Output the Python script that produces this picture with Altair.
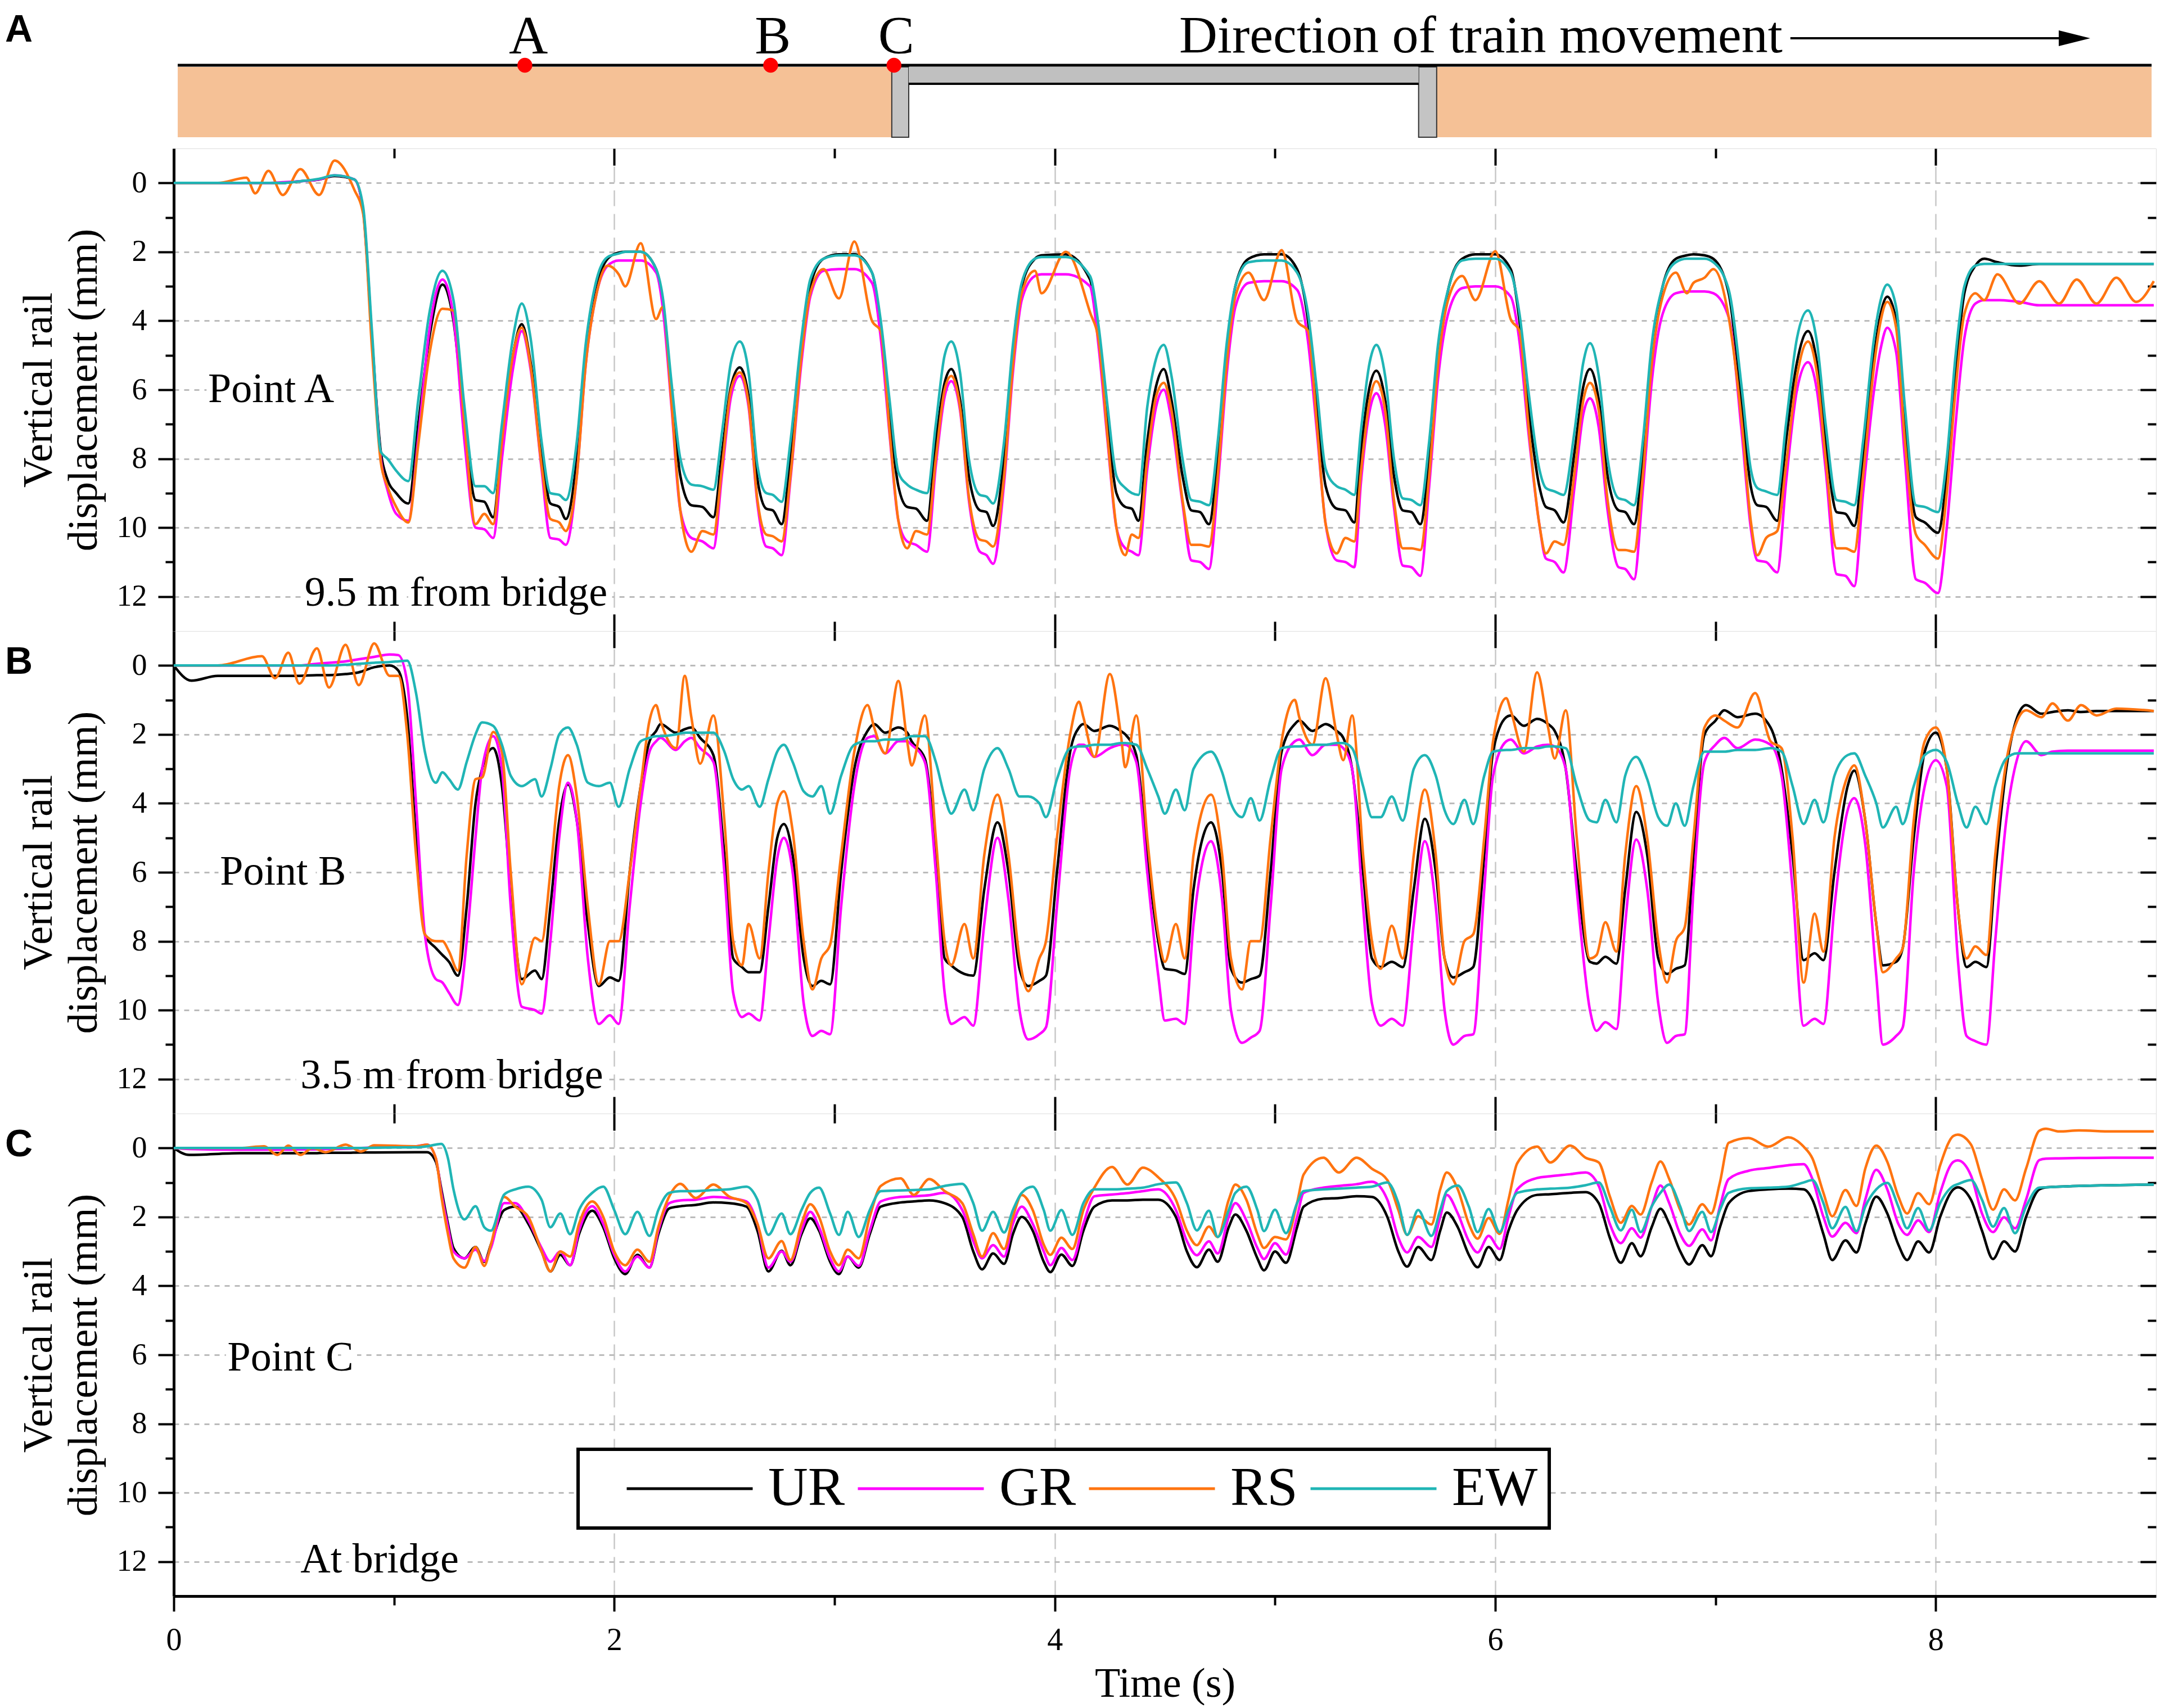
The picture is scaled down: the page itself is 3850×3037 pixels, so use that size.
import altair as alt
import pandas as pd

FONT = "Liberation Serif"
SANS = "Liberation Sans"
W = 3525
H = 858
H0 = 256
SERIES = ["UR", "GR", "RS", "EW"]
COLORS = ["#000000", "#FF00FF", "#FF7410", "#20B5B5"]

# ---------------- Panel A : 9.5 m from bridge ----------------
A_T = [0, 0.2, 0.33, 0.37, 0.43, 0.495, 0.575, 0.66, 0.73, 0.82,
       0.86, 0.9, 0.94, 0.97, 1.01, 1.065, 1.11, 1.16, 1.22, 1.27,
       1.32, 1.37, 1.41, 1.45, 1.49, 1.54, 1.58, 1.62, 1.67, 1.71,
       1.75, 1.78, 1.83, 1.87, 1.92, 1.97, 2.02, 2.05, 2.12, 2.19,
       2.22, 2.26, 2.3, 2.35, 2.4, 2.45, 2.49, 2.53, 2.57, 2.61,
       2.65, 2.69, 2.72, 2.76, 2.8, 2.85, 2.89, 2.95, 3.02, 3.09,
       3.17, 3.21, 3.25, 3.29, 3.33, 3.37, 3.42, 3.46, 3.5, 3.53,
       3.57, 3.61, 3.66, 3.69, 3.72, 3.77, 3.81, 3.85, 3.91, 3.94,
       4.05, 4.16, 4.2, 4.24, 4.28, 4.32, 4.35, 4.38, 4.42, 4.46,
       4.495, 4.53, 4.58, 4.62, 4.66, 4.7, 4.74, 4.78, 4.82, 4.88,
       4.95, 5.03, 5.1, 5.15, 5.19, 5.23, 5.28, 5.32, 5.36, 5.39,
       5.43, 5.46, 5.5, 5.54, 5.58, 5.62, 5.66, 5.7, 5.74, 5.79,
       5.85, 5.91, 6.0, 6.07, 6.11, 6.15, 6.2, 6.23, 6.27, 6.31,
       6.36, 6.4, 6.43, 6.47, 6.51, 6.56, 6.59, 6.63, 6.67, 6.71,
       6.76, 6.82, 6.87, 6.9, 6.95, 6.99, 7.06, 7.12, 7.16, 7.19,
       7.23, 7.28, 7.32, 7.37, 7.42, 7.46, 7.5, 7.55, 7.59, 7.63,
       7.67, 7.72, 7.75, 7.78, 7.82, 7.86, 7.91, 7.95, 8.01, 8.05,
       8.09, 8.13, 8.18, 8.22, 8.28, 8.38, 8.47, 8.56, 8.64, 8.73, 8.82, 8.91, 8.99]
A_UR = [0, 0, 0, 0, 0, 0, -0.05, -0.1, -0.2, -0.1,
        0.8, 4.5, 7.8, 8.6, 9.0, 9.3, 7.0, 4.5, 2.95, 4.0,
        7.0, 9.2, 9.25, 9.7, 7.5, 5.0, 4.1, 5.2, 7.8, 9.3,
        9.4, 9.75, 8.0, 5.0, 3.0, 2.2, 2.02, 2.0, 2.0, 2.5,
        3.5, 6.0, 8.5, 9.35, 9.4, 9.7, 7.8, 5.9, 5.35, 6.2,
        8.6, 9.45, 9.5, 9.9, 8.0, 4.8, 3.0, 2.2, 2.07, 2.07,
        2.6, 4.2, 6.8, 8.8, 9.4, 9.45, 9.8, 7.5, 5.8, 5.4,
        6.3, 8.5, 9.5, 9.55, 9.95, 8.0, 5.0, 3.0, 2.2, 2.1,
        2.07, 2.8, 4.5, 7.0, 9.0, 9.4, 9.45, 9.8, 7.5, 5.9,
        5.4, 6.3, 8.5, 9.5, 9.55, 9.9, 8.0, 5.0, 3.0, 2.2,
        2.07, 2.07, 2.5, 4.0, 6.5, 8.8, 9.45, 9.5, 9.85, 7.8,
        5.9, 5.45, 6.3, 8.5, 9.5, 9.55, 9.9, 8.0, 5.0, 3.0,
        2.2, 2.07, 2.07, 2.5, 4.0, 6.5, 8.8, 9.4, 9.5, 9.85,
        7.8, 5.9, 5.4, 6.3, 8.5, 9.5, 9.55, 9.9, 8.0, 5.0,
        3.0, 2.2, 2.1, 2.07, 2.1, 2.2, 3.2, 6.5, 8.8, 9.35,
        9.4, 9.8, 7.5, 5.2, 4.3, 5.2, 7.5, 9.55, 9.6, 9.95,
        8.0, 5.0, 3.8, 3.3, 4.0, 7.0, 9.7, 9.85, 10.15, 8.5,
        5.5, 3.2, 2.4, 2.2, 2.3, 2.4, 2.35, 2.35, 2.35, 2.35, 2.35, 2.35, 2.35]
A_GR = [0, 0, 0, 0, 0, -0.02, -0.05, -0.1, -0.22, -0.1,
        0.8, 4.5, 8.0, 8.9, 9.6, 9.8, 7.4, 4.3, 2.8, 3.9,
        7.5, 10.0, 10.05, 10.3, 8.0, 5.4, 4.3, 5.4, 8.3, 10.3,
        10.35, 10.5, 8.5, 5.3, 3.2, 2.4, 2.25, 2.25, 2.25, 2.6,
        3.6, 6.5, 9.5, 10.3, 10.4, 10.6, 8.4, 6.2, 5.6, 6.5,
        9.3, 10.55, 10.6, 10.8, 8.6, 5.2, 3.3, 2.55, 2.5, 2.5,
        2.9, 4.5, 7.3, 9.8, 10.4, 10.5, 10.7, 8.2, 6.2, 5.75,
        6.6, 9.2, 10.7, 10.8, 11.05, 8.7, 5.5, 3.4, 2.7, 2.65,
        2.65, 3.0, 4.8, 7.5, 10.0, 10.6, 10.7, 10.8, 8.3, 6.5,
        6.0, 6.9, 9.3, 10.95, 11.0, 11.2, 8.8, 5.6, 3.6, 2.9,
        2.85, 2.85, 3.1, 4.6, 7.2, 9.9, 10.95, 11.0, 11.15, 8.7,
        6.6, 6.1, 7.0, 9.4, 11.1, 11.15, 11.4, 8.8, 5.7, 3.7,
        3.05, 3.0, 3.0, 3.3, 4.6, 7.2, 9.9, 10.9, 11.0, 11.3,
        8.8, 6.7, 6.25, 7.1, 9.5, 11.15, 11.2, 11.5, 8.9, 5.8,
        3.8, 3.2, 3.15, 3.15, 3.15, 3.2, 3.9, 7.3, 10.0, 10.95,
        11.0, 11.3, 8.7, 6.0, 5.2, 6.0, 8.3, 11.35, 11.4, 11.7,
        9.0, 6.0, 4.8, 4.2, 4.9, 8.0, 11.5, 11.6, 11.9, 10.0,
        7.0, 4.5, 3.5, 3.4, 3.4, 3.45, 3.55, 3.55, 3.55, 3.55, 3.55, 3.55, 3.55]
A_RS = [0, 0, -0.15, 0.3, -0.35, 0.35, -0.4, 0.35, -0.65, 0.2,
        0.9, 4.8, 8.1, 8.8, 9.4, 9.85, 7.6, 5.0, 3.65, 3.7,
        7.0, 9.9, 9.6, 9.9, 7.5, 5.0, 4.2, 5.3, 8.2, 9.75,
        9.85, 10.1, 8.5, 5.3, 3.2, 2.4, 2.65, 3.0, 1.75, 3.95,
        3.6, 6.4, 9.5, 10.7, 10.1, 10.2, 8.2, 6.0, 5.5, 6.4,
        9.2, 10.2, 10.25, 10.4, 8.5, 5.0, 3.2, 2.5, 3.35, 1.7,
        4.0, 4.3, 7.2, 9.8, 10.6, 10.1, 10.2, 8.0, 6.0, 5.6,
        6.5, 9.1, 10.35, 10.4, 10.55, 8.5, 5.3, 3.2, 2.55, 3.2,
        2.0, 3.75, 4.6, 7.4, 10.0, 10.8, 10.2, 10.3, 8.0, 6.2,
        5.8, 6.6, 9.2, 10.5, 10.5, 10.55, 8.5, 5.3, 3.3, 2.6,
        3.4, 1.95, 4.0, 4.3, 7.0, 9.9, 10.75, 10.3, 10.4, 8.4,
        6.3, 5.75, 6.6, 9.2, 10.6, 10.6, 10.65, 8.5, 5.3, 3.3,
        2.7, 3.4, 1.98, 3.95, 4.3, 7.0, 9.9, 10.75, 10.4, 10.5,
        8.4, 6.3, 5.8, 6.6, 9.2, 10.65, 10.65, 10.7, 8.5, 5.3,
        3.3, 2.6, 3.2, 2.9, 2.75, 2.5, 3.9, 7.0, 9.8, 10.8,
        10.3, 10.1, 8.2, 5.6, 4.6, 5.5, 8.0, 10.6, 10.6, 10.7,
        8.5, 5.3, 4.0, 3.45, 4.2, 7.5, 10.2, 10.5, 10.9, 9.0,
        6.0, 3.8, 3.2, 3.4, 2.65, 3.5, 2.85, 3.5, 2.8, 3.5, 2.75, 3.45, 2.85]
A_EW = [0, 0, 0, 0, 0, 0, -0.05, -0.12, -0.22, -0.1,
        0.7, 4.3, 7.8, 8.0, 8.35, 8.65, 6.3, 3.8, 2.55, 3.4,
        6.5, 8.8, 8.8, 9.0, 7.0, 4.5, 3.5, 4.5, 7.5, 9.0,
        9.05, 9.2, 7.5, 4.7, 2.8, 2.15, 2.05, 2.0, 2.0, 2.5,
        3.3, 5.8, 8.0, 8.75, 8.8, 8.9, 7.2, 5.2, 4.6, 5.5,
        8.2, 9.0, 9.05, 9.25, 7.5, 4.5, 2.8, 2.2, 2.1, 2.1,
        2.6, 4.0, 6.3, 8.4, 8.75, 8.9, 9.0, 7.0, 5.0, 4.6,
        5.5, 8.0, 9.05, 9.1, 9.3, 7.5, 4.7, 2.9, 2.2, 2.15,
        2.15, 2.7, 4.2, 6.5, 8.5, 8.85, 9.0, 9.05, 6.5, 5.1,
        4.7, 5.6, 8.0, 9.2, 9.25, 9.35, 7.5, 4.7, 3.0, 2.3,
        2.25, 2.25, 2.6, 3.8, 6.0, 8.3, 8.8, 8.9, 9.05, 7.2,
        5.2, 4.7, 5.6, 8.0, 9.15, 9.2, 9.35, 7.5, 4.7, 3.0,
        2.25, 2.2, 2.2, 2.6, 3.8, 6.0, 8.3, 8.85, 8.95, 9.05,
        7.2, 5.2, 4.65, 5.6, 8.0, 9.15, 9.2, 9.35, 7.5, 4.7,
        3.0, 2.3, 2.2, 2.2, 2.2, 2.3, 3.1, 6.0, 8.3, 8.85,
        8.95, 9.05, 7.0, 4.5, 3.7, 4.6, 7.0, 9.2, 9.25, 9.35,
        7.5, 4.5, 3.4, 2.95, 3.6, 6.5, 9.35, 9.4, 9.55, 8.0,
        5.0, 3.0, 2.4, 2.35, 2.35, 2.35, 2.35, 2.35, 2.35, 2.35, 2.35, 2.35, 2.35]

# ---------------- Panel B : 3.5 m from bridge ----------------
B_T = [0, 0.08, 0.2, 0.4, 0.46, 0.52, 0.57, 0.65, 0.705, 0.78,
       0.84, 0.91, 0.98, 1.02, 1.06, 1.1, 1.14, 1.19, 1.22, 1.25,
       1.29, 1.33, 1.37, 1.4, 1.45, 1.49, 1.53, 1.58, 1.64, 1.67,
       1.71, 1.75, 1.79, 1.83, 1.88, 1.93, 1.98, 2.02, 2.07, 2.12,
       2.16, 2.19, 2.21, 2.28, 2.32, 2.35, 2.39, 2.45, 2.5, 2.54,
       2.58, 2.61, 2.66, 2.7, 2.74, 2.77, 2.81, 2.86, 2.9, 2.94,
       2.98, 3.03, 3.09, 3.15, 3.18, 3.23, 3.29, 3.33, 3.35, 3.41,
       3.46, 3.5, 3.53, 3.59, 3.63, 3.68, 3.74, 3.79, 3.84, 3.88,
       3.93, 3.96, 4.01, 4.07, 4.11, 4.13, 4.18, 4.25, 4.3, 4.32,
       4.37, 4.42, 4.47, 4.5, 4.55, 4.59, 4.63, 4.71, 4.76, 4.8,
       4.85, 4.89, 4.93, 4.98, 5.03, 5.09, 5.11, 5.17, 5.23, 5.28,
       5.31, 5.35, 5.4, 5.44, 5.48, 5.53, 5.58, 5.63, 5.68, 5.73,
       5.77, 5.81, 5.86, 5.9, 5.95, 5.99, 6.05, 6.07, 6.13, 6.19,
       6.24, 6.27, 6.32, 6.37, 6.43, 6.46, 6.5, 6.55, 6.59, 6.64,
       6.69, 6.74, 6.78, 6.82, 6.86, 6.9, 6.95, 7.0, 7.04, 7.1,
       7.18, 7.25, 7.3, 7.35, 7.4, 7.45, 7.49, 7.54, 7.6, 7.63,
       7.68, 7.73, 7.76, 7.82, 7.85, 7.9, 7.95, 8.0, 8.05, 8.1,
       8.14, 8.18, 8.23, 8.27, 8.32, 8.37, 8.41, 8.48, 8.53, 8.6, 8.66, 8.73, 8.82, 8.99]
B_UR = [0, 0.44, 0.3, 0.3, 0.3, 0.3, 0.3, 0.28, 0.28, 0.25,
        0.2, 0.05, 0.0, 0.15, 1.5, 5.0, 7.8, 8.2, 8.4, 8.6,
        9.0, 7.0, 4.0, 3.0, 2.4, 3.5, 6.5, 9.1, 8.85, 9.1,
        7.0, 4.5, 3.45, 4.5, 7.5, 9.3, 9.05, 9.15, 6.0, 3.5,
        2.2, 1.9, 1.7, 1.95, 1.85, 1.8, 2.1, 2.6, 5.5, 8.5,
        8.75, 8.9, 8.9, 7.0, 5.0, 4.6, 5.5, 8.5, 9.3, 9.15,
        9.25, 6.0, 3.0, 1.9, 1.7, 1.95, 1.8, 1.95, 2.2, 2.7,
        5.5, 8.5, 8.7, 8.95, 9.0, 6.5, 4.55, 6.0, 8.8, 9.3,
        9.15, 9.0, 6.0, 2.5, 1.8, 1.7, 1.9, 1.75, 1.9, 2.0,
        2.6, 5.5, 8.0, 8.8, 8.85, 8.95, 6.5, 4.55, 6.0, 8.8,
        9.2, 9.1, 9.0, 6.0, 2.5, 1.7, 1.6, 1.9, 1.7, 1.9,
        2.1, 3.0, 6.0, 8.5, 8.75, 8.6, 8.75, 6.5, 4.45, 6.0,
        8.5, 9.05, 8.9, 8.75, 5.5, 2.5, 1.5, 1.45, 1.75, 1.55,
        1.7, 1.9, 3.0, 6.0, 8.6, 8.65, 8.45, 8.65, 6.5, 4.25,
        5.5, 8.5, 8.95, 8.8, 8.7, 5.5, 2.0, 1.6, 1.3, 1.5,
        1.4, 1.8, 3.0, 5.5, 8.55, 8.35, 8.55, 6.0, 3.5, 3.05,
        4.5, 7.5, 8.7, 8.6, 8.2, 5.0, 2.5, 1.95, 3.0, 7.0,
        8.75, 8.6, 8.75, 6.0, 3.0, 1.5, 1.15, 1.4, 1.35, 1.3, 1.35, 1.32, 1.32, 1.32]
B_GR = [0, 0, 0, 0, 0, 0, 0, -0.05, -0.08, -0.12,
        -0.18, -0.25, -0.32, -0.3, 0.5, 4.0, 7.8, 9.1, 9.2, 9.5,
        9.85, 8.0, 5.0, 3.0, 2.05, 3.0, 7.0, 9.9, 10.0, 10.1,
        8.0, 5.0, 3.4, 4.5, 8.5, 10.4, 10.15, 10.4, 7.0, 4.0,
        2.5, 2.2, 2.1, 2.45, 2.2, 2.1, 2.4, 2.8, 6.0, 9.5,
        10.2, 10.1, 10.3, 8.0, 5.6, 5.0, 6.0, 9.8, 10.75, 10.6,
        10.7, 7.0, 3.5, 2.1, 2.05, 2.55, 2.2, 2.2, 2.3, 2.8,
        6.0, 9.5, 10.4, 10.2, 10.45, 7.5, 5.0, 6.8, 10.0, 10.85,
        10.7, 10.5, 7.0, 3.0, 2.3, 2.3, 2.65, 2.4, 2.3, 2.3,
        2.8, 6.0, 9.0, 10.3, 10.25, 10.4, 7.5, 5.1, 6.8, 10.0,
        10.95, 10.8, 10.6, 7.0, 3.0, 2.2, 2.15, 2.6, 2.3, 2.3,
        2.4, 3.0, 7.0, 9.8, 10.45, 10.25, 10.45, 7.5, 5.1, 7.0,
        10.0, 11.0, 10.75, 10.7, 6.5, 3.2, 2.2, 2.15, 2.55, 2.35,
        2.3, 2.35, 3.0, 6.5, 10.0, 10.6, 10.35, 10.55, 7.5, 5.05,
        6.5, 9.8, 10.95, 10.75, 10.7, 6.5, 2.8, 2.3, 2.1, 2.4,
        2.15, 2.3, 3.2, 6.5, 10.45, 10.25, 10.4, 7.0, 4.2, 3.85,
        5.2, 9.0, 11.0, 10.75, 10.5, 6.0, 3.5, 2.75, 3.5, 8.5,
        10.75, 10.9, 11.0, 8.0, 4.5, 2.7, 2.2, 2.6, 2.5, 2.47, 2.47, 2.47, 2.47, 2.47]
B_RS = [0, 0, 0, -0.27, 0.37, -0.37, 0.53, -0.5, 0.64, -0.6,
        0.57, -0.64, 0.3, 0.3, 2.0, 5.5, 7.8, 8.0, 8.0, 8.3,
        8.85, 5.5, 3.3, 3.25, 1.93, 2.5, 6.0, 9.25, 7.9, 8.0,
        6.0, 3.5, 2.6, 3.8, 7.0, 9.25, 8.0, 8.0, 6.0, 3.5,
        1.6, 1.15, 1.6, 2.4, 0.3, 1.5, 2.85, 1.45, 4.5, 8.0,
        8.7, 7.5, 8.5, 6.0, 4.0, 3.65, 4.8, 8.0, 9.4, 8.5,
        8.1, 5.5, 2.5, 1.15, 1.8, 2.55, 0.45, 2.2, 2.9, 1.45,
        5.0, 8.0, 8.7, 7.5, 8.5, 5.5, 3.75, 5.5, 8.5, 9.45,
        8.5, 8.0, 5.0, 2.0, 1.05, 1.5, 2.65, 0.25, 2.0, 2.95,
        1.45, 5.0, 7.8, 8.6, 7.5, 8.5, 5.5, 3.75, 5.5, 8.5,
        9.4, 8.0, 8.0, 5.0, 2.2, 1.0, 1.5, 2.3, 0.37, 2.0,
        2.75, 1.45, 5.5, 8.0, 8.8, 7.55, 8.5, 5.5, 3.6, 5.5,
        8.5, 9.25, 8.0, 7.8, 5.0, 2.2, 0.95, 1.3, 2.5, 0.2,
        1.8, 2.7, 1.3, 5.0, 8.5, 8.4, 7.45, 8.3, 5.5, 3.5,
        5.0, 8.0, 9.2, 8.0, 7.6, 5.0, 1.8, 1.45, 1.6, 1.8,
        0.8, 2.2, 2.4, 5.0, 9.2, 7.2, 8.3, 5.0, 3.2, 2.9,
        4.5, 7.5, 8.9, 8.5, 8.2, 4.5, 2.2, 1.8, 3.0, 7.0,
        8.5, 8.15, 8.4, 5.5, 2.8, 1.6, 1.3, 1.5, 1.1, 1.6, 1.15, 1.45, 1.25, 1.32]
B_EW = [0, 0, 0, 0, 0, 0, 0, 0, 0, -0.02,
        -0.05, -0.08, -0.1, -0.12, -0.14, 0.8, 2.5, 3.4, 3.1, 3.3,
        3.6, 2.8, 2.0, 1.65, 1.75, 2.3, 3.2, 3.5, 3.3, 3.8,
        3.0, 2.0, 1.8, 2.3, 3.4, 3.5, 3.4, 4.1, 3.0, 2.2,
        2.1, 2.05, 2.05, 2.0, 1.95, 1.95, 1.95, 1.95, 2.5, 3.3,
        3.6, 3.5, 4.1, 3.3, 2.5, 2.3, 2.8, 3.65, 3.8, 3.5,
        4.3, 3.2, 2.3, 2.2, 2.2, 2.15, 2.15, 2.1, 2.05, 2.05,
        2.8, 3.8, 4.3, 3.6, 4.2, 3.0, 2.4, 3.0, 3.8, 3.8,
        4.0, 4.4, 3.3, 2.4, 2.35, 2.35, 2.3, 2.3, 2.25, 2.25,
        2.3, 3.0, 3.8, 4.3, 3.6, 4.2, 3.0, 2.5, 3.1, 4.0,
        4.4, 3.85, 4.5, 3.3, 2.4, 2.35, 2.35, 2.3, 2.3, 2.25,
        2.25, 2.4, 3.5, 4.4, 4.4, 3.8, 4.5, 3.0, 2.6, 3.2,
        4.2, 4.6, 3.9, 4.6, 3.2, 2.5, 2.45, 2.45, 2.4, 2.4,
        2.35, 2.35, 2.4, 3.5, 4.5, 4.55, 3.9, 4.55, 3.2, 2.65,
        3.3, 4.4, 4.65, 4.0, 4.65, 3.5, 2.5, 2.5, 2.5, 2.45,
        2.45, 2.4, 2.5, 3.5, 4.6, 3.9, 4.55, 3.2, 2.6, 2.55,
        3.2, 4.0, 4.7, 4.1, 4.6, 3.5, 2.6, 2.45, 2.8, 4.0,
        4.7, 4.1, 4.6, 3.5, 2.7, 2.55, 2.55, 2.55, 2.55, 2.55, 2.55, 2.55, 2.55, 2.55]

# ---------------- Panel C : at bridge ----------------
C_T = [0, 0.07, 0.3, 0.41, 0.47, 0.52, 0.575, 0.63, 0.69, 0.78,
       0.85, 0.91, 1.1, 1.15, 1.19, 1.215, 1.245, 1.27, 1.32, 1.37,
       1.41, 1.44, 1.5, 1.55, 1.61, 1.67, 1.71, 1.755, 1.8, 1.84,
       1.9, 1.95, 2.0, 2.05, 2.105, 2.16, 2.2, 2.25, 2.3, 2.37,
       2.45, 2.52, 2.6, 2.65, 2.7, 2.76, 2.8, 2.85, 2.89, 2.93,
       2.98, 3.02, 3.06, 3.11, 3.16, 3.21, 3.3, 3.36, 3.43, 3.5,
       3.58, 3.63, 3.67, 3.72, 3.77, 3.81, 3.85, 3.9, 3.95, 3.98,
       4.03, 4.08, 4.13, 4.18, 4.26, 4.33, 4.4, 4.47, 4.55, 4.6,
       4.645, 4.7, 4.74, 4.79, 4.82, 4.87, 4.92, 4.95, 5.0, 5.05,
       5.1, 5.13, 5.22, 5.29, 5.37, 5.44, 5.51, 5.56, 5.6, 5.65,
       5.71, 5.75, 5.78, 5.83, 5.88, 5.92, 5.97, 6.02, 6.06, 6.1,
       6.19, 6.25, 6.34, 6.41, 6.47, 6.52, 6.57, 6.62, 6.66, 6.71,
       6.75, 6.79, 6.84, 6.88, 6.94, 6.98, 7.02, 7.06, 7.15, 7.24,
       7.33, 7.4, 7.44, 7.49, 7.53, 7.59, 7.64, 7.68, 7.73, 7.78,
       7.83, 7.87, 7.92, 7.97, 8.02, 8.08, 8.1, 8.16, 8.21, 8.26,
       8.31, 8.36, 8.41, 8.47, 8.5, 8.56, 8.65, 8.8, 8.99]
C_UR = [0, 0.2, 0.15, 0.15, 0.15, 0.15, 0.15, 0.15, 0.14, 0.14,
        0.13, 0.13, 0.12, 0.12, 0.4, 1.2, 2.2, 2.9, 3.2, 2.87,
        3.3, 2.8, 1.8, 1.7, 2.2, 3.0, 3.58, 3.1, 3.4, 2.5,
        1.82, 2.3, 3.2, 3.66, 3.1, 3.47, 2.5, 1.75, 1.69, 1.65,
        1.58, 1.6, 1.7, 2.4, 3.58, 2.98, 3.4, 2.5, 2.04, 2.4,
        3.3, 3.66, 3.15, 3.47, 2.5, 1.7, 1.58, 1.55, 1.52, 1.6,
        2.0, 3.0, 3.52, 3.06, 3.36, 2.5, 2.0, 2.4, 3.3, 3.6,
        3.09, 3.42, 2.4, 1.7, 1.52, 1.52, 1.5, 1.5, 2.0, 3.0,
        3.46, 2.95, 3.3, 2.3, 1.93, 2.4, 3.2, 3.55, 3.0, 3.33,
        2.3, 1.7, 1.47, 1.45, 1.4, 1.42, 2.0, 3.0, 3.44, 2.87,
        3.25, 2.4, 1.87, 2.3, 3.1, 3.46, 2.87, 3.25, 2.4, 1.8,
        1.36, 1.34, 1.3, 1.28, 1.6, 2.6, 3.33, 2.76, 3.14, 2.3,
        1.76, 2.2, 3.0, 3.38, 2.82, 3.14, 2.3, 1.6, 1.25, 1.2,
        1.18, 1.2, 1.5, 2.5, 3.25, 2.68, 3.03, 2.2, 1.41, 1.9,
        2.8, 3.25, 2.71, 3.03, 2.0, 1.2, 1.14, 1.5, 2.4, 3.22,
        2.71, 3.0, 2.0, 1.2, 1.14, 1.12, 1.1, 1.08, 1.06]
C_GR = [0, 0.03, 0.05, 0.05, 0.05, 0.05, 0.04, 0.04, 0.03, 0.02,
        0.0, -0.02, -0.05, -0.1, 0.3, 1.3, 2.3, 3.0, 3.2, 2.95,
        3.28, 2.9, 1.6, 1.6, 2.1, 2.9, 3.3, 3.0, 3.4, 2.4,
        1.69, 2.2, 3.1, 3.58, 3.15, 3.47, 2.4, 1.6, 1.52, 1.5,
        1.42, 1.45, 1.55, 2.2, 3.47, 3.0, 3.3, 2.4, 1.85, 2.3,
        3.2, 3.58, 3.15, 3.42, 2.4, 1.55, 1.42, 1.4, 1.37, 1.3,
        1.8, 2.7, 3.2, 2.82, 3.15, 2.2, 1.7, 2.2, 3.0, 3.4,
        2.9, 3.25, 2.2, 1.4, 1.35, 1.31, 1.25, 1.2, 1.8, 2.7,
        3.11, 2.71, 3.06, 2.0, 1.6, 2.1, 2.9, 3.22, 2.76, 3.09,
        2.0, 1.3, 1.15, 1.1, 1.05, 0.98, 1.5, 2.6, 3.03, 2.58,
        2.87, 2.0, 1.36, 1.9, 2.7, 3.03, 2.55, 2.93, 2.0, 1.2,
        0.87, 0.82, 0.76, 0.71, 1.1, 2.2, 2.76, 2.33, 2.6, 1.7,
        1.09, 1.6, 2.5, 2.84, 2.36, 2.68, 1.7, 0.9, 0.66, 0.58,
        0.5, 0.47, 0.9, 2.0, 2.57, 2.17, 2.47, 1.5, 0.63, 1.2,
        2.2, 2.52, 2.1, 2.44, 1.3, 0.4, 0.36, 0.8, 1.9, 2.44,
        2.01, 2.33, 1.5, 0.35, 0.31, 0.3, 0.29, 0.28, 0.28]
C_RS = [0, 0, 0.0, -0.05, 0.2, -0.07, 0.2, 0.0, 0.12, -0.1,
        0.1, -0.08, -0.05, -0.1, 0.3, 1.4, 2.5, 3.2, 3.47, 2.87,
        3.42, 2.8, 1.42, 1.7, 2.0, 3.0, 3.58, 3.0, 3.15, 2.2,
        1.55, 2.0, 3.0, 3.4, 2.95, 3.3, 2.3, 1.4, 1.04, 1.45,
        1.06, 1.4, 1.6, 2.2, 3.2, 2.7, 3.25, 2.2, 1.63, 2.0,
        3.0, 3.4, 2.95, 3.2, 2.0, 1.1, 0.88, 1.36, 0.9, 1.25,
        1.6, 2.5, 3.15, 2.47, 2.93, 2.0, 1.36, 1.8, 2.8, 3.1,
        2.6, 2.93, 1.8, 1.15, 0.55, 1.06, 0.57, 0.85, 1.5, 2.4,
        2.82, 2.28, 2.58, 1.5, 1.06, 1.5, 2.5, 2.9, 2.58, 2.65,
        1.6, 0.77, 0.28, 0.71, 0.28, 0.6, 0.93, 1.8, 2.52, 1.98,
        2.22, 1.2, 0.71, 1.2, 2.2, 2.63, 2.03, 2.49, 1.5, 0.44,
        -0.04, 0.42, -0.07, 0.28, 0.42, 1.4, 2.17, 1.68, 1.93, 1.0,
        0.39, 0.9, 1.8, 2.22, 1.63, 1.9, 1.0, -0.15, -0.29, -0.04,
        -0.31, -0.04, 0.3, 1.3, 1.98, 1.22, 1.68, 0.6, -0.07, 0.4,
        1.4, 1.9, 1.31, 1.63, 0.5, -0.35, -0.39, -0.1, 0.9, 1.79,
        1.2, 1.52, 0.6, -0.5, -0.56, -0.48, -0.51, -0.48, -0.48]
C_EW = [0, 0, 0, 0, 0, 0, 0, 0, 0, 0,
        0, -0.01, -0.02, -0.05, -0.1, -0.12, 0.3, 1.2, 2.07, 1.69,
        2.3, 2.4, 1.35, 1.2, 1.12, 1.5, 2.3, 1.9, 2.5, 1.8,
        1.3, 1.12, 1.8, 2.5, 1.85, 2.55, 1.8, 1.3, 1.25, 1.25,
        1.22, 1.2, 1.12, 1.5, 2.52, 1.9, 2.5, 1.8, 1.3, 1.15,
        1.9, 2.52, 1.85, 2.58, 1.8, 1.25, 1.23, 1.22, 1.2, 1.1,
        1.04, 1.6, 2.4, 1.85, 2.45, 1.8, 1.3, 1.12, 1.8, 2.4,
        1.8, 2.52, 1.6, 1.2, 1.2, 1.18, 1.15, 1.05, 1.0, 1.6,
        2.39, 1.82, 2.58, 1.8, 1.3, 1.12, 1.8, 2.41, 1.79, 2.47,
        1.6, 1.25, 1.2, 1.18, 1.15, 1.12, 1.0, 1.6, 2.52, 1.8,
        2.55, 1.8, 1.25, 1.09, 1.7, 2.44, 1.77, 2.44, 1.8, 1.3,
        1.2, 1.18, 1.15, 1.08, 1.0, 1.7, 2.39, 1.79, 2.44, 1.7,
        1.3, 1.06, 1.7, 2.41, 1.85, 2.44, 1.8, 1.3, 1.17, 1.15,
        1.12, 1.0, 0.93, 1.6, 2.33, 1.71, 2.41, 1.7, 1.2, 1.01,
        1.7, 2.33, 1.74, 2.39, 1.6, 1.1, 1.05, 0.93, 1.5, 2.28,
        1.74, 2.47, 1.7, 1.15, 1.14, 1.12, 1.1, 1.08, 1.06]

# ---------------- panel annotations ----------------
A_LABELS = ["Point A", "9.5 m from bridge"]
B_LABELS = ["Point B", "3.5 m from bridge"]
C_LABELS = ["Point C", "At bridge"]
LABEL_T_A = [0.156, 0.594]
LABEL_T_B = [0.21, 0.575]
LABEL_T_C = [0.244, 0.575]
LABEL_Y_A = [6.0, 11.9]
LABEL_Y_B = [6.0, 11.9]
LABEL_Y_C = [6.1, 11.95]

# ---------------- schematic (top strip) ----------------
EMB_X0 = [0.018, 5.734]
EMB_X1 = [3.26, 8.98]
PIER_X0 = [3.26, 5.652]
PIER_X1 = [3.337, 5.734]
DECK_X0 = [3.337]
DECK_X1 = [5.652]
RAIL_X0 = [0.018]
RAIL_X1 = [8.98]
POINT_X = [1.594, 2.71, 3.27]
POINT_NAMES = ["A", "B", "C"]
POINT_LABEL_X = [1.61, 2.72, 3.28]
DIR_TEXT = ["Direction of train movement"]
DIR_X = [4.565]
ARROW_X0 = [7.34]
ARROW_X1 = [8.6]
ARROW_HEAD_X = [8.63]
RAIL_Y = 108
GROUND_TOP = 111
GROUND_BOTTOM = 236
DECK_BOTTOM = 141

NBSP4 = "\u00a0\u00a0\u00a0\u00a0"


def long_df(t, ur, gr, rs, ew):
    rows = []
    for name, vals in zip(SERIES, [ur, gr, rs, ew]):
        assert len(vals) == len(t), (name, len(vals), len(t))
        for ti, vi in zip(t, vals):
            rows.append({"t": ti, "y": vi, "series": name})
    return pd.DataFrame(rows)


def cond(test, a, b):
    return {"condition": {"test": test, "value": a}, "value": b}


EVEN = "datum.value % 2 == 0"
XGRID = "datum.value % 2 == 0 && datum.value > 0"


def xs():
    return alt.Scale(domain=[0, 9], nice=False, zero=False)


def ys():
    return alt.Scale(domain=[-1, 13], reverse=True, nice=False, zero=False)


LEG = alt.Legend(orient="none", legendX=719, legendY=2569, direction="horizontal",
                 title=" ", titleOrient="left", titlePadding=64, titleFontSize=8,
                 symbolType="stroke", symbolSize=50176, symbolStrokeWidth=5,
                 labelFont=FONT, labelFontSize=98, labelColor="black", labelOffset=25,
                 labelLimit=600,
                 labelExpr="datum.label == 'EW' ? datum.label + '" + NBSP4 + "' : datum.label",
                 columnPadding=20, padding=20, clipHeight=100,
                 strokeColor="black", fillColor="white")


def y_main():
    return alt.Axis(values=list(range(0, 13)), labelExpr=EVEN + " ? datum.label : ''",
                    title=["Vertical rail", "displacement (mm)"], titleFont=FONT,
                    titleFontSize=74, titleFontWeight="normal", titleColor="black",
                    titleLineHeight=80, titlePadding=20,
                    labelFont=FONT, labelFontSize=54, labelColor="black", labelPadding=20,
                    labelOverlap=False, labelFlush=False,
                    tickSize=cond(EVEN, 28, 15), tickWidth=4, tickColor="black",
                    domain=True, domainColor="black", domainWidth=5,
                    grid=True, gridColor="#BBBBBB", gridDash=[9, 9], gridWidth=3,
                    gridOpacity=cond(EVEN, 1, 0))


def x_main(show):
    if show:
        return alt.Axis(values=list(range(0, 9)), labelExpr=EVEN + " ? datum.label : ''",
                        title="Time (s)", titleFont=FONT, titleFontSize=74,
                        titleFontWeight="normal", titleColor="black", titlePadding=14,
                        labelFont=FONT, labelFontSize=56, labelColor="black", labelPadding=24,
                        labelOverlap=False, labelFlush=False,
                        tickSize=cond(EVEN, 27, 16), tickWidth=4, tickColor="black",
                        domain=True, domainColor="black", domainWidth=5,
                        grid=True, gridColor="#C8C8C8", gridDash=[28, 14], gridWidth=2.5,
                        gridOpacity=cond(XGRID, 1, 0))
    return alt.Axis(values=list(range(0, 9)), labels=False, ticks=False, domain=False,
                    title=None, grid=True, gridColor="#C8C8C8", gridDash=[28, 14],
                    gridWidth=2.5, gridOpacity=cond(XGRID, 1, 0))


def tick_axis(orient, offset, values, big, small):
    return alt.Axis(orient=orient, offset=offset, values=values, labels=False,
                    domain=False, grid=False, title=None,
                    tickSize=cond(EVEN, big, small), tickWidth=4, tickColor="black")


def panel(t, ur, gr, rs, ew, labels, lt, ly, letter, bottom):
    df = long_df(t, ur, gr, rs, ew)
    ann = pd.DataFrame({"t": lt, "y": ly, "label": labels})

    if bottom:
        halo_x = alt.X("t:Q", scale=xs(), axis=None)
    else:
        halo_x = alt.X("t:Q", scale=xs(), axis=tick_axis("top", -H, list(range(1, 9)), 30, 17))
    halo = alt.Chart(ann).mark_text(align="left", baseline="middle", font=FONT, fontSize=74,
                                    color="white", stroke="white", strokeWidth=22).encode(
        x=halo_x, y=alt.Y("y:Q", scale=ys(), axis=None), text="label:N")

    lines = alt.Chart(df).mark_line(strokeWidth=4.5, interpolate="monotone", clip=True).encode(
        x=alt.X("t:Q", scale=xs(), axis=x_main(bottom)),
        y=alt.Y("y:Q", scale=ys(), axis=y_main()),
        color=alt.Color("series:N", scale=alt.Scale(domain=SERIES, range=COLORS), legend=LEG),
    )

    text = alt.Chart(ann).mark_text(align="left", baseline="middle", font=FONT, fontSize=74,
                                    color="black").encode(
        x=alt.X("t:Q", scale=xs(), axis=tick_axis("bottom", -H, list(range(1, 9)), 30, 17)),
        y=alt.Y("y:Q", scale=ys(), axis=tick_axis("left", -W, list(range(0, 13)), 28, 15)),
        text="label:N")

    layers = [halo, lines, text]
    if letter:
        lab = alt.Chart(pd.DataFrame({"letter": [letter]})).mark_text(
            align="left", baseline="top", font=SANS, fontWeight="bold", fontSize=68,
            color="black").encode(x=alt.value(-300), y=alt.value(22), text="letter:N")
        layers.append(lab)

    return alt.layer(*layers).resolve_scale(x="independent", y="independent").resolve_axis(
        x="independent", y="independent").properties(width=W, height=H)


# ---------------- schematic chart ----------------
sx = alt.Scale(domain=[0, 9], nice=False, zero=False)
sy = alt.Scale(domain=[0, H0], reverse=True, nice=False, zero=False)

emb = alt.Chart(pd.DataFrame({"x0": EMB_X0, "x1": EMB_X1,
                              "y0": [GROUND_TOP] * 2, "y1": [GROUND_BOTTOM] * 2})).mark_rect(
    color="#F5C196").encode(x=alt.X("x0:Q", scale=sx, axis=None), x2="x1:Q",
                            y=alt.Y("y0:Q", scale=sy, axis=None), y2="y1:Q")
piers = alt.Chart(pd.DataFrame({"x0": PIER_X0, "x1": PIER_X1,
                                "y0": [GROUND_TOP] * 2, "y1": [GROUND_BOTTOM] * 2})).mark_rect(
    fill="#C4C4C4", stroke="#333333", strokeWidth=2).encode(
    x=alt.X("x0:Q", scale=sx, axis=None), x2="x1:Q", y=alt.Y("y0:Q", scale=sy, axis=None), y2="y1:Q")
deck = alt.Chart(pd.DataFrame({"x0": DECK_X0, "x1": DECK_X1,
                               "y0": [GROUND_TOP], "y1": [DECK_BOTTOM]})).mark_rect(
    fill="#C0C0C0").encode(x=alt.X("x0:Q", scale=sx, axis=None), x2="x1:Q",
                           y=alt.Y("y0:Q", scale=sy, axis=None), y2="y1:Q")
deck_line = alt.Chart(pd.DataFrame({"x0": DECK_X0, "x1": DECK_X1, "y0": [DECK_BOTTOM]})).mark_rule(
    color="black", strokeWidth=4).encode(x=alt.X("x0:Q", scale=sx, axis=None), x2="x1:Q",
                                         y=alt.Y("y0:Q", scale=sy, axis=None))
rail = alt.Chart(pd.DataFrame({"x0": RAIL_X0, "x1": RAIL_X1, "y0": [RAIL_Y]})).mark_rule(
    color="black", strokeWidth=5).encode(x=alt.X("x0:Q", scale=sx, axis=None), x2="x1:Q",
                                         y=alt.Y("y0:Q", scale=sy, axis=None))
dots = alt.Chart(pd.DataFrame({"x": POINT_X, "y": [RAIL_Y] * 3})).mark_point(
    filled=True, color="#FF0000", opacity=1, size=700).encode(
    x=alt.X("x:Q", scale=sx, axis=None), y=alt.Y("y:Q", scale=sy, axis=None))
pt_labels = alt.Chart(pd.DataFrame({"x": POINT_LABEL_X, "y": [87] * 3, "n": POINT_NAMES})).mark_text(
    font=FONT, fontSize=96, baseline="alphabetic", align="center", color="black").encode(
    x=alt.X("x:Q", scale=sx, axis=None), y=alt.Y("y:Q", scale=sy, axis=None), text="n:N")
dir_text = alt.Chart(pd.DataFrame({"x": DIR_X, "y": [85], "s": DIR_TEXT})).mark_text(
    font=FONT, fontSize=94, baseline="alphabetic", align="left", color="black").encode(
    x=alt.X("x:Q", scale=sx, axis=None), y=alt.Y("y:Q", scale=sy, axis=None), text="s:N")
arrow = alt.Chart(pd.DataFrame({"x0": ARROW_X0, "x1": ARROW_X1, "y0": [60]})).mark_rule(
    color="black", strokeWidth=4).encode(x=alt.X("x0:Q", scale=sx, axis=None), x2="x1:Q",
                                         y=alt.Y("y0:Q", scale=sy, axis=None))
head = alt.Chart(pd.DataFrame({"x": ARROW_HEAD_X, "y": [60]})).mark_point(
    shape="M-1,-0.5L1,0L-1,0.5Z", filled=True, color="black", opacity=1, size=3136).encode(
    x=alt.X("x:Q", scale=sx, axis=None), y=alt.Y("y:Q", scale=sy, axis=None))
letter_a = alt.Chart(pd.DataFrame({"letter": ["A"]})).mark_text(
    align="left", baseline="top", font=SANS, fontWeight="bold", fontSize=68, color="black").encode(
    x=alt.value(-300), y=alt.value(12), text="letter:N")

schem = alt.layer(emb, piers, deck, deck_line, rail, dots, pt_labels, dir_text, arrow, head,
                  letter_a).properties(width=W, height=H0,
                                       view=alt.ViewBackground(strokeOpacity=0))

pA = panel(A_T, A_UR, A_GR, A_RS, A_EW, A_LABELS, LABEL_T_A, LABEL_Y_A, None, False)
pB = panel(B_T, B_UR, B_GR, B_RS, B_EW, B_LABELS, LABEL_T_B, LABEL_Y_B, "B", False)
pC = panel(C_T, C_UR, C_GR, C_RS, C_EW, C_LABELS, LABEL_T_C, LABEL_Y_C, "C", True)

chart = alt.vconcat(schem, pA, pB, pC, spacing=0, bounds="flush").properties(
    padding=0, background="white").configure_view(stroke="black", strokeWidth=5).configure(
    font=FONT).configure_legend(strokeWidth=6)

chart.save("out.html", embed_options={"renderer": "svg", "actions": False})
